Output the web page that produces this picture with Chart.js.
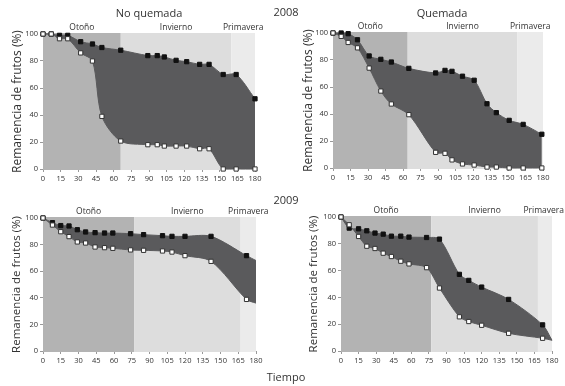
<!DOCTYPE html>
<html>
<head>
<meta charset="utf-8">
<script src="https://cdn.jsdelivr.net/npm/chart.js@4.4.1/dist/chart.umd.min.js"></script>
<style>
  body { margin: 0; width: 565px; height: 386px; background: #fff; position: relative; overflow: hidden;
         font-family: 'Open Sans', sans-serif; color: #333; }
  .box { position: absolute; width: 282px; }
  .txt { position: absolute; z-index: 2; font-size: 11px; line-height: 14px; color: #333; white-space: nowrap; transform: translate(-50%, -50%); }
</style>
</head>
<body>
<div class="box" style="left:0;top:0;height:190px"><canvas id="c1"></canvas></div>
<div class="box" style="left:283px;top:0;height:190px"><canvas id="c2"></canvas></div>
<div class="box" style="left:0;top:190px;height:180px"><canvas id="c3"></canvas></div>
<div class="box" style="left:283px;top:190px;height:180px"><canvas id="c4"></canvas></div>

<div class="txt" style="left:149px;top:13px">No quemada</div>
<div class="txt" style="left:286px;top:12px">2008</div>
<div class="txt" style="left:442px;top:13px">Quemada</div>
<div class="txt" style="left:286px;top:200px">2009</div>
<div class="txt" style="left:286px;top:377px">Tiempo</div>

<script>
// ---- data ----
const seasons = ['Otoño', 'Invierno', 'Primavera'];
const xTickValues = [0, 15, 30, 45, 60, 75, 90, 105, 120, 135, 150, 165, 180];
const yTickValues = [0, 20, 40, 60, 80, 100];

// 2008, no quemada
const days1 = [0, 7, 14, 21, 32, 42, 50, 66, 89, 97, 103, 113, 122, 133, 141, 153, 164, 180];
const top1 = [100, 100, 99, 99, 94.3, 92.6, 90, 88, 84, 84, 83, 80.5, 79.5, 77.5, 77.5, 70, 70, 52];
const bottom1 = [100, 100, 96.5, 96.5, 86, 80, 39, 20.7, 18, 18, 17, 17, 17, 15, 15, 0, 0, 0];
const breaks1 = [66, 160];

// 2008, quemada
const days2 = [0, 7, 13, 21, 31, 41, 50, 65, 88, 96, 102, 111, 121, 132, 140, 151, 163, 179];
const top2 = [100, 100, 99.5, 95, 83, 80.5, 78.5, 73.8, 70.4, 72.3, 71.6, 68, 65, 47.6, 41, 35.3, 32.3, 25];
const bottom2 = [100, 97.5, 93, 89, 74, 57, 47.4, 39.5, 11.6, 10.9, 6, 3, 2.2, 0.7, 0.7, 0, 0, 0];
const breaks2 = [64, 158];

// 2009, no quemada (last point = end of the shaded band, no marker)
const days3 = [0, 8, 15, 22, 29, 36, 44, 52, 59, 74, 85, 101, 109, 120, 142, 172, 180];
const top3 = [100, 96.5, 94.3, 94, 91.2, 89.5, 89, 88.7, 88.7, 88.2, 87.5, 86.7, 86.2, 86.2, 86.2, 71.7, 68];
const bottom3 = [100, 94.7, 89.7, 86, 82, 81.2, 78.2, 77.7, 77.2, 76, 75.7, 75.2, 74.4, 71.7, 67.4, 38.8, 36];
const breaks3 = [77, 167];

// 2009, quemada (last point = end of the shaded band, no marker)
const days4 = [0, 7, 15, 22, 29, 36, 43, 51, 58, 73, 84, 101, 109, 120, 143, 172, 180];
const top4 = [100, 91.7, 91.2, 89.7, 88, 87.2, 85.7, 85.7, 85, 84.7, 83.5, 57.2, 52.7, 47.7, 38.5, 19.5, 8];
const bottom4 = [100, 94.2, 85.5, 78.2, 76.5, 73, 70.5, 67, 65, 62.2, 47, 25.5, 22, 19.2, 13.2, 9.5, 8];
const breaks4 = [77, 168];

const seasonColors = ['#b3b3b3', '#dddddd', '#ebebeb'];
const bandColor = '#5a5a5c';

Chart.defaults.font.family = "'Open Sans', sans-serif";
Chart.defaults.color = '#333';

const seasonPlugin = {
  id: 'seasons',
  beforeDatasetsDraw(chart, args, opts) {
    const { ctx, chartArea, scales: { x } } = chart;
    const edges = [0, ...opts.breaks, 180];
    ctx.save();
    ctx.font = "8.5px 'Open Sans', sans-serif";
    ctx.textAlign = 'center';
    ctx.textBaseline = 'middle';
    for (let i = 0; i < 3; i++) {
      const x0 = x.getPixelForValue(edges[i]);
      const x1 = x.getPixelForValue(edges[i + 1]);
      ctx.fillStyle = seasonColors[i];
      ctx.fillRect(x0, chartArea.top - 1, x1 - x0, chartArea.bottom - chartArea.top + 2);
      const w = ctx.measureText(seasons[i]).width;
      let cx = (x0 + x1) / 2;
      if (cx + w / 2 > chart.width - 1) cx = chart.width - 1 - w / 2;
      ctx.fillStyle = '#333';
      ctx.fillText(seasons[i], cx, chartArea.top - 6);
    }
    ctx.restore();
  }
};

function makePanel(id, days, top, bottom, breaks, lay) {
  const last = days.length - 1;
  const radius = (c) => (lay.hideLast && c.dataIndex === last) ? 0 : 3;
  const pts = (arr) => arr.map((v, i) => ({ x: days[i], y: v }));
  return new Chart(document.getElementById(id), {
    type: 'line',
    data: {
      datasets: [
        {
          data: pts(bottom),
          borderColor: bandColor, borderWidth: 1, tension: 0.3, fill: false, clip: false,
          pointStyle: 'rect', pointRadius: radius,
          pointBackgroundColor: '#fff', pointBorderColor: '#333', pointBorderWidth: 1,
        },
        {
          data: pts(top),
          borderColor: bandColor, borderWidth: 1, tension: 0.3, fill: '-1', clip: false,
          backgroundColor: bandColor,
          pointStyle: 'rect', pointRadius: radius,
          pointBackgroundColor: '#111', pointBorderColor: '#111', pointBorderWidth: 1,
        },
      ],
    },
    options: {
      responsive: true,
      maintainAspectRatio: false,
      animation: false,
      events: [],
      layout: { padding: { top: lay.top, right: lay.right, left: 0, bottom: 0 } },
      plugins: {
        legend: { display: false },
        tooltip: { enabled: false },
        seasons: { breaks },
      },
      scales: {
        x: {
          type: 'linear', min: 0, max: 180,
          afterBuildTicks: (s) => { s.ticks = xTickValues.map((v) => ({ value: v })); },
          afterFit: (s) => { s.height = lay.xh; },
          grid: { drawOnChartArea: false, tickLength: 3, color: '#999' },
          border: { display: false },
          ticks: { font: { size: 7.5 }, padding: 2, maxRotation: 0, autoSkip: false },
        },
        y: {
          min: 0, max: 100,
          afterBuildTicks: (s) => { s.ticks = yTickValues.map((v) => ({ value: v })); },
          afterFit: (s) => { s.width = lay.left; },
          grid: { drawOnChartArea: false, tickLength: 3, color: '#999' },
          border: { display: false },
          ticks: { font: { size: 7.5 }, padding: 2 },
          title: {
            display: true, text: 'Remanencia de frutos (%)',
            font: { size: lay.titleSize }, padding: { top: lay.titlePad, bottom: 0 },
          },
        },
      },
    },
    plugins: [seasonPlugin],
  });
}

makePanel('c1', days1, top1, bottom1, breaks1, { top: 34, right: 27, left: 43, xh: 21, titleSize: 12, titlePad: 10 });
makePanel('c2', days2, top2, bottom2, breaks2, { top: 33, right: 22, left: 50, xh: 22, titleSize: 12, titlePad: 18 });
makePanel('c3', days3, top3, bottom3, breaks3, { top: 28, right: 26, left: 43, xh: 19, titleSize: 11.5, titlePad: 10, hideLast: true });
makePanel('c4', days4, top4, bottom4, breaks4, { top: 27, right: 13, left: 58, xh: 19, titleSize: 11.5, titlePad: 24, hideLast: true });
</script>
</body>
</html>
